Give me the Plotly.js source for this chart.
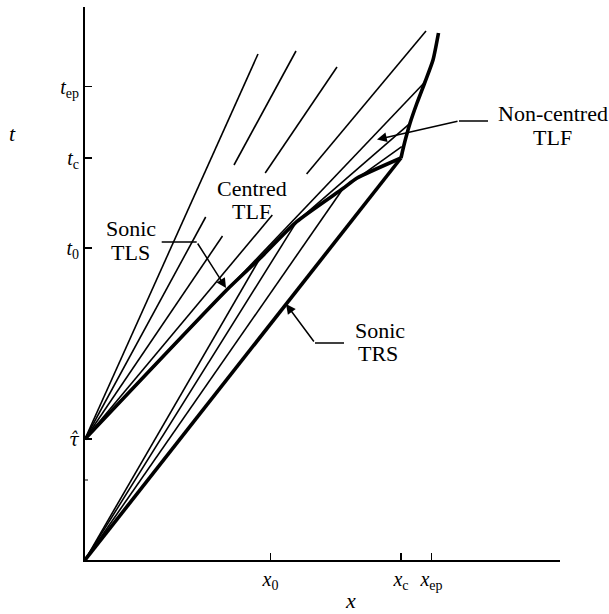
<!DOCTYPE html>
<html>
<head>
<meta charset="utf-8">
<script src="https://cdn.plot.ly/plotly-3.0.1.min.js"></script>
<style>html,body{margin:0;padding:0;background:#fff;}#chart{width:609px;height:614px;}</style>
</head>
<body>
<div id="chart"></div>
<script>
// ---- Axis ticks ----
const xTickVals = [185.5, 316, 346.5];
const xTickText = ['<i>x</i><sub>0</sub>', '<i>x</i><sub>c</sub>', '<i>x</i><sub>ep</sub>'];
const tTickVals = [121, 312, 402, 473.5];
const tTickText = ['<span style="font-family:DejaVu Serif;font-size:18px"><i>\u03C4\u0302</i></span>',
                   '<i>t</i><sub>0</sub>', '<i>t</i><sub>c</sub>', '<i>t</i><sub>ep</sub>'];
const tMinorTick = [80];

// ---- Centred TLF characteristics from tau-hat (segments; gaps around the label) ----
const tlfSegX = [[0,173],[0,120.7],[149,211],[0,137.5],[180.2,252],[0,187.3],[221.6,341],[0,340]];
const tlfSegT = [[121,506],[121,343],[395,509],[121,324],[387,493],[121,345],[386,529],[121,478]];

// ---- TRS fan characteristics from the origin, ending on the TLS ----
const trsFanX = [[0,175],[0,211.7],[0,258.3]];
const trsFanT = [[0,301.7],[0,338.3],[0,371.7]];

// ---- Non-centred TLF characteristics ----
const ncX = [[211.7,325],[258.3,316.7]];
const ncT = [[338.3,436.7],[371.7,413.3]];

// ---- Thick boundaries ----
const tlsX = [0, 141.7, 175, 211.7, 258.3, 271.7, 316];
const tlsT = [121, 270, 301.7, 338.3, 371.7, 381.7, 402];
const trsX = [0, 316];
const trsT = [0, 402];
const edgeX = [316, 318.5, 325, 332, 340, 348, 353.5];
const edgeT = [402, 413, 436.7, 457, 478, 500, 527];

function joinSegs(xs, ts) {
  const x = [], y = [];
  xs.forEach((seg, i) => { x.push(...seg, null); y.push(...ts[i], null); });
  return {x, y};
}
const thin = {color: '#000', width: 1.6};
const thick = {color: '#000', width: 3.6};
const a = joinSegs(tlfSegX, tlfSegT);
const b = joinSegs(trsFanX, trsFanT);
const c = joinSegs(ncX, ncT);

const traces = [
  {x: a.x, y: a.y, mode: 'lines', line: thin, hoverinfo: 'skip'},
  {x: b.x, y: b.y, mode: 'lines', line: thin, hoverinfo: 'skip'},
  {x: c.x, y: c.y, mode: 'lines', line: thin, hoverinfo: 'skip'},
  {x: tlsX, y: tlsT, mode: 'lines', line: Object.assign({shape: 'spline', smoothing: 0.6}, thick), hoverinfo: 'skip'},
  {x: trsX, y: trsT, mode: 'lines', line: thick, hoverinfo: 'skip'},
  {x: edgeX, y: edgeT, mode: 'lines', line: Object.assign({shape: 'spline', smoothing: 0.6}, thick), hoverinfo: 'skip'}
];

const F = '"Liberation Serif", "Times New Roman", serif';
function txt(s, x, y) {
  return {text: s, x: x, y: y, xref: 'x', yref: 'y', showarrow: false,
          xanchor: 'center', yanchor: 'middle', font: {family: F, size: 22, color: '#000'}};
}
function arrow(x, y, ax, ay) {
  return {text: '', x: x, y: y, ax: ax, ay: ay, xref: 'x', yref: 'y', axref: 'x', ayref: 'y',
          showarrow: true, arrowhead: 2, arrowsize: 1.3, arrowwidth: 1.5, arrowcolor: '#000'};
}
function hline(x0, x1, y) {
  return {type: 'line', xref: 'x', yref: 'y', x0: x0, x1: x1, y0: y, y1: y, line: {color: '#000', width: 1.5}};
}

const minorShapes = tMinorTick.map(v => ({type: 'line', xref: 'x', yref: 'y', x0: 0, x1: 3, y0: v, y1: v,
                                          line: {color: '#000', width: 1}}));

const layout = {
  width: 609, height: 614,
  margin: {l: 85, r: 49, t: 7, b: 54},
  paper_bgcolor: '#fff', plot_bgcolor: '#fff',
  showlegend: false,
  xaxis: {range: [0, 475], showgrid: false, zeroline: false, showline: true, linewidth: 2, linecolor: '#000',
          ticks: 'inside', ticklen: 7, tickwidth: 1.5, tickcolor: '#000',
          tickvals: xTickVals, ticktext: xTickText, tickfont: {family: F, size: 20, color: '#000'}},
  yaxis: {range: [0, 553], showgrid: false, zeroline: false, showline: true, linewidth: 2, linecolor: '#000',
          ticks: 'inside', ticklen: 7, tickwidth: 1.5, tickcolor: '#000',
          tickvals: tTickVals, ticktext: tTickText, tickfont: {family: F, size: 20, color: '#000'}},
  shapes: [hline(76.7, 111.7, 318), hline(230, 259, 217), hline(374, 403, 439)].concat(minorShapes),
  annotations: [
    txt('Sonic', 45.5, 331.5), txt('TLS', 45.5, 308),
    txt('Centred', 166.7, 372), txt('TLF', 166.7, 348.5),
    txt('Sonic', 294.6, 230), txt('TRS', 293, 206.5),
    txt('Non-centred', 468, 447), txt('TLF', 467.4, 423),
    arrow(141, 272, 111.7, 318),
    arrow(201, 256, 230, 217),
    arrow(292, 420.5, 374, 439),
    {text: '<i>t</i>', xref: 'paper', yref: 'paper', x: (12 - 85) / 475, y: (560 - 133) / 553,
     showarrow: false, xanchor: 'center', yanchor: 'middle', font: {family: F, size: 22, color: '#000'}},
    {text: '<i>x</i>', xref: 'paper', yref: 'paper', x: (350 - 85) / 475, y: (560 - 600) / 553,
     showarrow: false, xanchor: 'center', yanchor: 'middle', font: {family: F, size: 22, color: '#000'}}
  ]
};

Plotly.newPlot('chart', traces, layout, {staticPlot: true, displayModeBar: false});
</script>
</body>
</html>
